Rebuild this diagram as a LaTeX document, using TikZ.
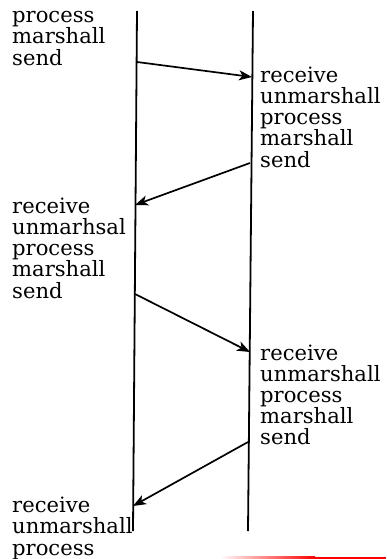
\documentclass[tikz,border=0pt]{standalone}
\usepackage{fontspec}
\setmainfont{DejaVu Serif}
\usetikzlibrary{arrows.meta}
\tikzset{
  lifeline/.style={line width=1.8pt},
  msg/.style={line width=1.7pt,-{Stealth[length=13pt,width=10pt,inset=3.5pt]}},
  steps/.style={anchor=base west,inner sep=0pt,text width=130pt,align=left,
    font=\fontsize{21.1}{21.2}\selectfont}
}
\begin{document}
\begin{tikzpicture}[x=1pt,y=-1pt]
\useasboundingbox (0,0) rectangle (386,559);
% lifelines
\coordinate (Ltop) at (137,11);
\coordinate (Lbot) at (133,531);
\coordinate (Rtop) at (253,11);
\coordinate (Rbot) at (248,531);
\draw[lifeline] (Ltop) -- (Lbot);
\draw[lifeline] (Rtop) -- (Rbot);
% message end points
\coordinate (s1) at (137,62);
\coordinate (r1) at (252,77);
\coordinate (s2) at (250,163);
\coordinate (r2) at (135,205);
\coordinate (s3) at (135,294);
\coordinate (r3) at (250,352);
\coordinate (s4) at (248,442);
\coordinate (r4) at (133,506);
\draw[msg] (s1) -- (r1);
\draw[msg] (s2) -- (r2);
\draw[msg] (s3) -- (r3);
\draw[msg] (s4) -- (r4);
% text blocks
\node[steps] (b1) at (12,22.7) {process\\marshall\\send};
\node[steps] (b2) at (260,82.3) {receive\\unmarshall\\process\\marshall\\send};
\node[steps] (b3) at (12,213.3) {receive\\unmarhsal\\process\\marshall\\send};
\node[steps] (b4) at (260,360) {receive\\unmarshall\\process\\marshall\\send};
\node[steps] (b5) at (12,512.7) {receive\\unmarshall\\process};
% red line at the bottom
\shade[left color=white,right color=red] (220,556.8) rectangle (315,558.6);
\fill[red] (315,556.8) rectangle (386,558.6);
\end{tikzpicture}
\end{document}
